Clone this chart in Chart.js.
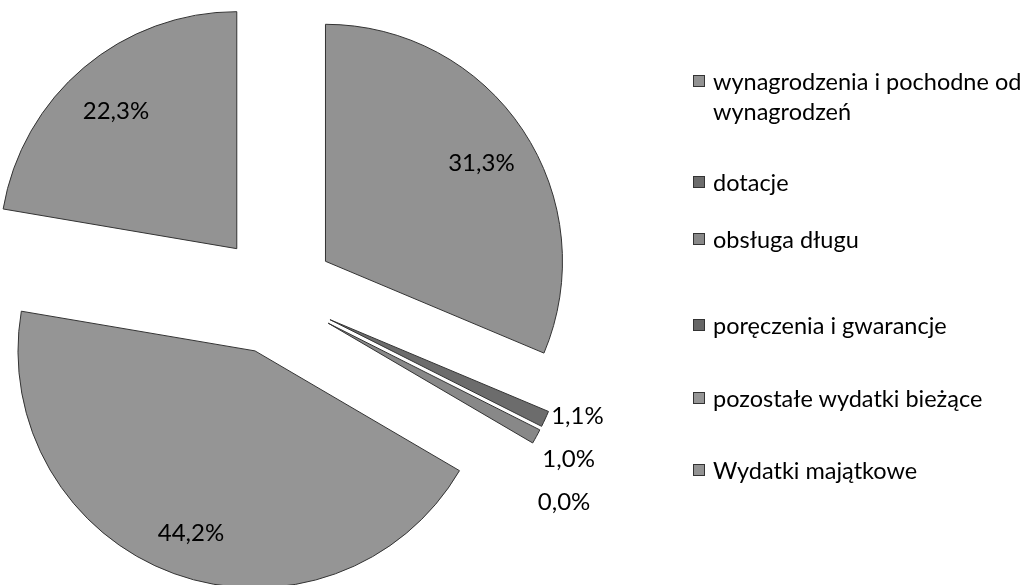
<!DOCTYPE html>
<html>
<head>
<meta charset="utf-8">
<script src="https://cdn.jsdelivr.net/npm/chart.js@4.4.1/dist/chart.umd.min.js"></script>
<style>
  body { margin: 0; background: #fff; }
  #wrap { position: relative; width: 1035px; height: 585px; overflow: hidden; }
  #pie { position: absolute; left: 0; top: 0; }
  .item { position: absolute; left: 693px; font-family: Lato, sans-serif; font-size: 23.5px; line-height: 30px; color: #000; }
  .item .sw { position: absolute; left: 0; top: 9px; width: 10px; height: 10px; border: 1px solid #333; }
  .item .tx { margin-left: 20px; white-space: nowrap; }
</style>
</head>
<body>
<div id="wrap">
  <canvas id="pie" width="1035" height="585"></canvas>
  <div id="legend"></div>
</div>
<script>
// data
const categories = [
    ['wynagrodzenia i pochodne od', 'wynagrodzeń'],
    'dotacje',
    'obsługa długu',
    'poręczenia i gwarancje',
    'pozostałe wydatki bieżące',
    'Wydatki majątkowe'
];
const shares = [31.3, 1.1, 1.0, 0.0, 44.2, 22.3];

const sliceColors = ['#929292', '#6c6c6c', '#888888', '#666666', '#959595', '#939393'];
const legendTops = [66, 167, 224, 310, 383, 455]; // legend layout, px

// push every slice away from the centre (Excel style explode)
const explode = {
    id: 'explode',
    afterDatasetUpdate(chart, args, opts) {
        args.meta.data.forEach(arc => {
            const mid = (arc.startAngle + arc.endAngle) / 2;
            arc.x += Math.cos(mid) * opts.distance;
            arc.y += Math.sin(mid) * opts.distance;
        });
    }
};

// percentage labels, inside big slices, stacked outside the thin ones
const sliceLabels = {
    id: 'sliceLabels',
    afterDatasetsDraw(chart) {
        const ctx = chart.ctx;
        const arcs = chart.getDatasetMeta(0).data;
        let lastY = -Infinity;
        ctx.save();
        ctx.font = '24px Lato, sans-serif';
        ctx.fillStyle = '#000';
        ctx.textBaseline = 'middle';
        arcs.forEach((arc, i) => {
            const v = shares[i];
            const text = v.toFixed(1).replace('.', ',') + '%';
            const mid = (arc.startAngle + arc.endAngle) / 2;
            const r = arc.outerRadius;
            if (v >= 5) {
                ctx.textAlign = 'center';
                ctx.fillText(text, arc.x + Math.cos(mid) * r * 0.79, arc.y + Math.sin(mid) * r * 0.79 + 6);
            } else {
                const tipX = arc.x + Math.cos(mid) * r;
                const tipY = arc.y + Math.sin(mid) * r;
                const y = Math.max(tipY - 3, lastY + 43);
                lastY = y;
                ctx.textAlign = 'left';
                ctx.fillText(text, tipX + 6, y);
            }
        });
        ctx.restore();
    }
};

new Chart(document.getElementById('pie'), {
    type: 'pie',
    data: {
        labels: categories,
        datasets: [{
            data: shares,
            backgroundColor: sliceColors,
            borderColor: '#333',
            borderWidth: 1,
            clip: false
        }]
    },
    options: {
        responsive: false,
        animation: false,
        events: [],
        radius: 237,
        layout: { padding: { left: 0, right: 484, top: 4, bottom: 0 } },
        plugins: {
            legend: { display: false },
            tooltip: { enabled: false },
            explode: { distance: 60 }
        }
    },
    plugins: [explode, sliceLabels]
});

// legend on the right
const legend = document.getElementById('legend');
categories.forEach((c, i) => {
    const item = document.createElement('div');
    item.className = 'item';
    item.style.top = legendTops[i] + 'px';
    const sw = document.createElement('div');
    sw.className = 'sw';
    sw.style.background = sliceColors[i];
    const tx = document.createElement('div');
    tx.className = 'tx';
    tx.innerHTML = [].concat(c).join('<br>');
    item.appendChild(sw);
    item.appendChild(tx);
    legend.appendChild(item);
});
</script>
</body>
</html>
